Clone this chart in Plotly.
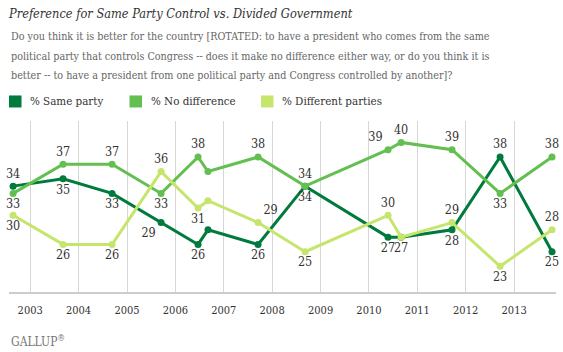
import plotly.graph_objects as go

# ---------------- data ----------------
poll_dates = ["2002-08-25", "2003-09-06", "2004-09-10", "2005-09-15", "2006-06-21",
              "2006-09-04", "2007-09-17", "2008-09-06", "2010-05-25", "2010-09-01",
              "2011-09-20", "2012-09-17", "2013-10-14"]
same_party = [34, 35, 33, 29, 26, 28, 26, 34, 27, 27, 28, 38, 25]
no_difference = [33, 37, 37, 33, 38, 36, 38, 34, 39, 40, 39, 33, 38]
different_parties = [30, 26, 26, 36, 31, 32, 29, 25, 30, 27, 29, 23, 28]

# which points carry a data label, and where
same_show = [1, 1, 1, 1, 1, 0, 1, 1, 1, 0, 1, 1, 1]
same_pos = ["top center", "bottom center", "bottom center", "bottom left", "bottom center",
            "top center", "bottom center", "bottom center", "bottom center", "top center",
            "bottom center", "top center", "bottom center"]
nodiff_show = [1, 1, 1, 1, 1, 0, 1, 1, 1, 1, 1, 1, 1]
nodiff_pos = ["bottom center", "top center", "top center", "bottom center", "top center",
              "top center", "top center", "top center", "top left", "top center",
              "top center", "bottom center", "top center"]
diff_show = [1, 1, 1, 1, 1, 0, 1, 1, 1, 1, 1, 1, 1]
diff_pos = ["bottom center", "bottom center", "bottom center", "top center", "bottom center",
            "top center", "top right", "bottom center", "top center", "bottom center",
            "top center", "bottom center", "top center"]

years = [str(y) for y in range(2003, 2014)]
year_ticks = [f"{y}-01-01" for y in years]

series_names = ["% Same party", "% No difference", "% Different parties"]
colors = ["#007a3d", "#62bf50", "#c6e56d"]

title_text = "<i>Preference for Same Party Control vs. Divided Government</i>"
subtitle_lines = [
    "Do you think it is better for the country [ROTATED: to have a president who comes from the same",
    "political party that controls Congress -- does it make no difference either way, or do you think it is",
    "better -- to have a president from one political party and Congress controlled by another]?",
]

# ---------------- layout geometry (pixels) ----------------
W, H = 563, 352
PL, PR, PT, PB = 9, 556, 121, 291.7
SERIF = "'DejaVu Serif Condensed', 'DejaVu Serif', serif"


def px_x(p):
    return (p - PL) / (PR - PL)


def px_y(p):
    return (PB - p) / (PB - PT)


def sfont(size, color):
    return dict(family=SERIF, size=size, color=color)


fig = go.Figure()

for name, vals, show, pos, col in [
    (series_names[0], same_party, same_show, same_pos, colors[0]),
    (series_names[1], no_difference, nodiff_show, nodiff_pos, colors[1]),
    (series_names[2], different_parties, diff_show, diff_pos, colors[2]),
]:
    fig.add_trace(go.Scatter(
        x=poll_dates, y=vals, name=name, mode="lines+markers+text",
        line=dict(color=col, width=3),
        marker=dict(color=col, size=7),
        text=[str(v) if s else "" for v, s in zip(vals, show)],
        textposition=pos,
        textfont=sfont(12.5, "#333333"),
        cliponaxis=False, showlegend=False, hoverinfo="x+y+name",
    ))

# manual legend
legend_sq_x = [9, 129.5, 261]
for i, (name, col) in enumerate(zip(series_names, colors)):
    x0 = legend_sq_x[i]
    fig.add_shape(type="rect", xref="paper", yref="paper",
                  x0=px_x(x0), x1=px_x(x0 + 12.5), y0=px_y(107.5), y1=px_y(95.5),
                  fillcolor=col, line=dict(width=0))
    fig.add_annotation(xref="paper", yref="paper", x=px_x(x0 + 19), y=px_y(101.5),
                       text=name, showarrow=False, xanchor="left", yanchor="middle",
                       font=sfont(11.5, "#333333"))

# subtitle lines
for i, line in enumerate(subtitle_lines):
    fig.add_annotation(xref="paper", yref="paper", x=px_x(9), y=px_y(37 + 19.5 * i),
                       text=line, showarrow=False, xanchor="left", yanchor="middle",
                       font=sfont(10.7, "#666666"))

# logo text
fig.add_annotation(xref="paper", yref="paper", x=px_x(9), y=px_y(341),
                   text="GALLUP<sup>®</sup>", showarrow=False, xanchor="left", yanchor="middle",
                   font=sfont(12, "#777777"))

fig.update_layout(
    width=W, height=H,
    margin=dict(l=PL, r=W - PR, t=PT, b=H - PB, pad=0),
    paper_bgcolor="white", plot_bgcolor="white",
    title=dict(text=title_text, x=9 / W, xanchor="left", xref="container",
               y=1 - 14 / H, yanchor="middle", yref="container",
               font=sfont(12.7, "#333333")),
    xaxis=dict(type="date", range=["2002-07-25", "2013-11-13"],
               tickvals=year_ticks, ticktext=years,
               showgrid=True, gridcolor="#d6d6d6", gridwidth=1,
               showline=True, linecolor="#cccccc", linewidth=2,
               ticks="", ticklabelstandoff=7,
               tickfont=sfont(11, "#333333"),
               zeroline=False, fixedrange=True),
    yaxis=dict(range=[19.47, 42.94], visible=False, showgrid=False, fixedrange=True),
    showlegend=False,
)

fig.write_html("out.html")
